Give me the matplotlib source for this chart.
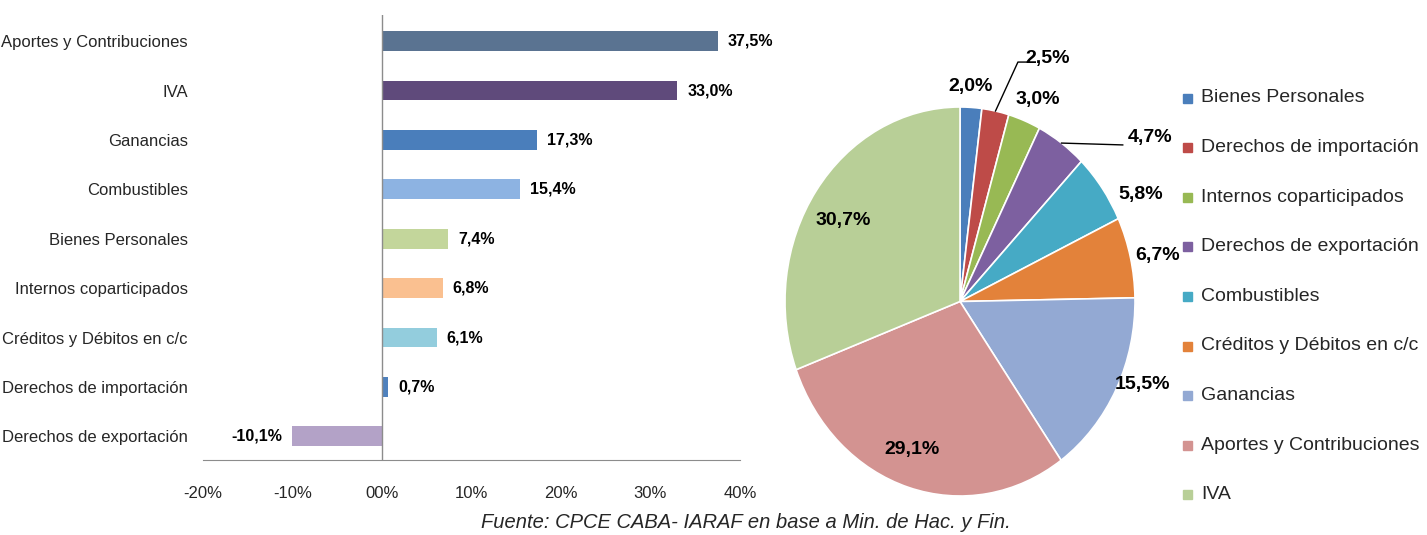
import matplotlib
matplotlib.use("Agg")
import matplotlib.pyplot as plt
from matplotlib import font_manager
from matplotlib.patches import Rectangle
import numpy as np

# datos: variación por impuesto (barras) y participación en la recaudación (torta)
bar_labels = [
    "Aportes y Contribuciones", "IVA", "Ganancias", "Combustibles",
    "Bienes Personales", "Internos coparticipados", "Créditos y Débitos en c/c",
    "Derechos de importación", "Derechos de exportación",
]
bar_values = [37.5, 33.0, 17.3, 15.4, 7.4, 6.8, 6.1, 0.7, -10.1]
bar_colors = ["#5A7391", "#5F4A7B", "#4A7EBB", "#8DB3E2", "#C3D69B",
              "#FAC090", "#93CDDD", "#4F81BD", "#B3A2C7"]
x_ticks = [-20, -10, 0, 10, 20, 30, 40]
x_tick_labels = ["-20%", "-10%", "00%", "10%", "20%", "30%", "40%"]

pie_labels = [
    "Bienes Personales", "Derechos de importación", "Internos coparticipados",
    "Derechos de exportación", "Combustibles", "Créditos y Débitos en c/c",
    "Ganancias", "Aportes y Contribuciones", "IVA",
]
pie_values = [2.0, 2.5, 3.0, 4.7, 5.8, 6.7, 15.5, 29.1, 30.7]
pie_colors = ["#4A7EBB", "#BE4B48", "#98B954", "#7D60A0", "#46AAC5",
              "#E3823A", "#93A9D3", "#D39391", "#B8CF97"]

# posiciones de las etiquetas de la torta (coords del eje, radio = 1)
pie_label_pos = [(0.063, 1.103), (0.50, 1.247), (0.446, 1.036), (1.086, 0.841),
                 (1.034, 0.548), (1.131, 0.239), (1.04, -0.429),
                 (-0.274, -0.763), (-0.669, 0.419)]

available = {f.name for f in font_manager.fontManager.ttflist}
REG = "Liberation Sans" if "Liberation Sans" in available else "DejaVu Sans"
NARROW = "Liberation Sans Narrow" if "Liberation Sans Narrow" in available else REG
TXT = "#262626"

W, H = 1427, 535
fig = plt.figure(figsize=(W / 100, H / 100), dpi=100)

# --- barras ---
ax1 = fig.add_axes([203 / W, 1 - 460 / H, (740 - 203) / W, (460 - 15) / H])
y = np.arange(len(bar_values))
ax1.barh(y, bar_values, height=0.4, color=bar_colors)
ax1.set_xlim(-20, 40)
ax1.set_ylim(8.48, -0.53)
ax1.axvline(0, color="#8c8c8c", lw=1)
for s in ["top", "right", "left"]:
    ax1.spines[s].set_visible(False)
ax1.spines["bottom"].set_color("#8c8c8c")
ax1.set_xticks(x_ticks)
ax1.set_xticklabels(x_tick_labels, fontfamily=NARROW, fontsize=12, color=TXT)
ax1.set_yticks(y)
ax1.set_yticklabels(bar_labels, fontfamily=NARROW, fontsize=12, color=TXT)
ax1.tick_params(length=0)
ax1.tick_params(axis="x", pad=19)
ax1.tick_params(axis="y", pad=11)

for yi, v in zip(y, bar_values):
    txt = f"{v:.1f}".replace(".", ",") + "%"
    if v >= 0:
        ax1.text(v + 1.1, yi, txt, ha="left", va="center", fontfamily=NARROW,
                 fontsize=11.5, fontweight="bold", color="black")
    else:
        ax1.text(v - 1.1, yi, txt, ha="right", va="center", fontfamily=NARROW,
                 fontsize=11.5, fontweight="bold", color="black")

# --- torta ---
ax2 = fig.add_axes([785 / W, 1 - 496 / H, 350 / W, 389 / H])
wedges, _ = ax2.pie(pie_values, colors=pie_colors, startangle=90, counterclock=False,
                    wedgeprops=dict(edgecolor="white", linewidth=1.2))
ax2.set_aspect("auto")
ax2.set_xlim(-1, 1)
ax2.set_ylim(-1, 1)

for v, (px, py) in zip(pie_values, pie_label_pos):
    ax2.text(px, py, f"{v:.1f}".replace(".", ",") + "%", ha="center", va="center",
             fontfamily=REG, fontsize=14, fontweight="bold", color="black")

# líneas guía de 2,5% y 4,7%
for i, pts in [(1, [(0.331, 1.231), (0.383, 1.231)]), (3, [(0.93, 0.805)])]:
    w = wedges[i]
    ang = np.deg2rad((w.theta1 + w.theta2) / 2)
    xs = [np.cos(ang)] + [p[0] for p in pts]
    ys = [np.sin(ang)] + [p[1] for p in pts]
    ax2.plot(xs, ys, color="black", lw=1, clip_on=False)

# leyenda manual
for k, (lab, col) in enumerate(zip(pie_labels, pie_colors)):
    yc = 98 + 49.6 * k
    fig.add_artist(Rectangle((1183 / W, 1 - (yc + 4.5) / H), 9 / W, 9 / H,
                             transform=fig.transFigure, color=col))
    fig.text(1201 / W, 1 - yc / H, lab, ha="left", va="center", fontfamily=REG,
             fontsize=14, color=TXT)

fig.text(746 / W, 1 - 523 / H, "Fuente: CPCE CABA- IARAF en base a Min. de Hac. y Fin.",
         ha="center", va="center", fontfamily=REG, fontsize=14.5, style="italic", color=TXT)

fig.savefig("out.png", dpi=100)
